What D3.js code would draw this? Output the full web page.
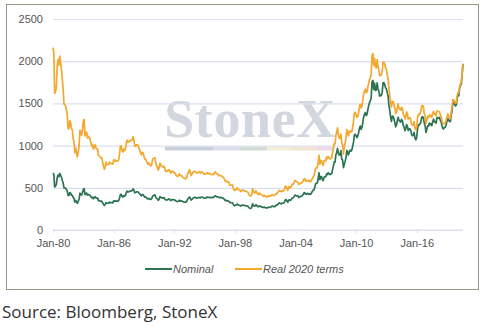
<!DOCTYPE html>
<html>
<head>
<meta charset="utf-8">
<script src="https://cdn.jsdelivr.net/npm/d3@7"></script>
<style>
  html, body { margin: 0; padding: 0; background: #fff; }
  svg { display: block; }
</style>
</head>
<body>
<svg id="chart" width="500" height="329"></svg>
<script>
// Gold price, monthly, US$/oz
const firstMonth = new Date(1980, 0, 1);

const nominal = [
  675, 660, 510, 520, 540, 620, 650, 630, 670, 650, 625, 590,   // 1980
  557, 500, 499, 495, 480, 461, 409, 410, 444, 437, 413, 410,   // 1981
  384, 374, 330, 350, 334, 315, 339, 364, 436, 422, 414, 444,   // 1982
  481, 491, 419, 432, 438, 413, 422, 416, 412, 394, 382, 388,   // 1983
  370, 386, 394, 381, 377, 378, 348, 348, 341, 340, 341, 320,   // 1984
  303, 290, 304, 325, 316, 317, 317, 330, 323, 326, 325, 322,   // 1985
  345, 339, 346, 340, 342, 343, 348, 376, 418, 423, 398, 391,   // 1986
  408, 401, 409, 438, 460, 450, 450, 461, 460, 465, 467, 486,   // 1987
  477, 442, 443, 452, 451, 452, 437, 433, 413, 406, 420, 419,   // 1988
  404, 388, 390, 384, 371, 368, 375, 366, 362, 367, 392, 409,   // 1989
  410, 416, 393, 375, 369, 352, 362, 395, 389, 381, 382, 378,   // 1990
  384, 364, 356, 358, 357, 367, 368, 357, 349, 359, 360, 361,   // 1991
  354, 354, 344, 338, 337, 340, 353, 343, 345, 344, 335, 334,   // 1992
  329, 330, 330, 342, 367, 372, 392, 379, 355, 364, 373, 383,   // 1993
  387, 382, 384, 377, 381, 386, 385, 380, 391, 389, 384, 379,   // 1994
  379, 377, 382, 391, 385, 387, 386, 383, 383, 383, 386, 387,   // 1995
  400, 405, 396, 393, 392, 385, 383, 387, 383, 381, 378, 369,   // 1996
  355, 347, 352, 344, 344, 341, 324, 324, 323, 325, 306, 289,   // 1997
  289, 297, 296, 308, 299, 292, 293, 284, 289, 296, 294, 291,   // 1998
  287, 288, 286, 282, 277, 262, 256, 257, 265, 311, 293, 283,   // 1999
  285, 301, 287, 280, 275, 286, 282, 275, 274, 270, 266, 272,   // 2000
  266, 262, 263, 261, 272, 270, 268, 273, 283, 283, 276, 276,   // 2001
  282, 296, 294, 302, 314, 321, 314, 310, 319, 317, 319, 333,   // 2002
  357, 359, 340, 328, 355, 356, 351, 360, 379, 379, 389, 407,   // 2003
  414, 405, 406, 404, 384, 392, 398, 400, 406, 420, 439, 442,   // 2004
  424, 423, 434, 429, 422, 430, 424, 438, 456, 470, 476, 510,   // 2005
  549, 555, 557, 610, 676, 596, 633, 632, 598, 585, 627, 629,   // 2006
  631, 665, 655, 679, 667, 655, 665, 665, 712, 754, 806, 803,   // 2007
  889, 922, 968, 909, 888, 889, 940, 839, 829, 740, 780, 816,   // 2008
  858, 943, 924, 890, 928, 946, 934, 949, 996, 1043, 1127, 1134, // 2009
  1118, 1095, 1113, 1148, 1205, 1232, 1193, 1215, 1271, 1342, 1370, 1391, // 2010
  1356, 1372, 1424, 1473, 1510, 1529, 1573, 1756, 1772, 1666, 1739, 1652, // 2011
  1656, 1743, 1674, 1650, 1585, 1596, 1594, 1630, 1745, 1747, 1722, 1685, // 2012
  1671, 1628, 1592, 1485, 1414, 1343, 1286, 1347, 1349, 1316, 1275, 1222, // 2013
  1244, 1300, 1336, 1299, 1288, 1279, 1311, 1296, 1239, 1222, 1176, 1200, // 2014
  1250, 1227, 1179, 1198, 1199, 1181, 1131, 1117, 1125, 1157, 1086, 1068, // 2015
  1097, 1199, 1246, 1242, 1260, 1276, 1337, 1341, 1326, 1266, 1238, 1157, // 2016
  1192, 1234, 1231, 1266, 1246, 1260, 1236, 1283, 1314, 1280, 1283, 1265, // 2017
  1331, 1331, 1325, 1335, 1303, 1282, 1238, 1202, 1199, 1215, 1221, 1250, // 2018
  1292, 1320, 1300, 1286, 1284, 1359, 1413, 1500, 1510, 1495, 1471, 1480, // 2019
  1560, 1597, 1591, 1683, 1716, 1732, 1846, 1968                          // 2020
];

const real2020 = [
  2160, 2100, 1620, 1640, 1700, 1940, 2020, 1950, 2060, 1990, 1900, 1790, // 1980
  1670, 1495, 1485, 1470, 1420, 1360, 1200, 1200, 1295, 1270, 1200, 1185, // 1981
  1075, 1045, 915, 970, 920, 865, 930, 995, 1185, 1145, 1120, 1195,       // 1982
  1290, 1310, 1115, 1150, 1160, 1090, 1110, 1095, 1080, 1030, 995, 1010,  // 1983
  955, 990, 1010, 975, 960, 960, 880, 880, 860, 855, 855, 800,            // 1984
  755, 720, 750, 805, 775, 775, 775, 805, 790, 790, 785, 780,             // 1985
  830, 815, 830, 815, 815, 820, 830, 895, 990, 1000, 940, 925,            // 1986
  960, 940, 955, 1020, 1065, 1040, 1040, 1060, 1055, 1065, 1065, 1105,    // 1987
  1080, 995, 990, 1010, 1005, 1005, 965, 955, 910, 890, 920, 915,         // 1988
  875, 840, 840, 820, 790, 780, 795, 770, 760, 765, 820, 850,             // 1989
  850, 855, 805, 765, 750, 710, 730, 790, 775, 755, 755, 745,             // 1990
  755, 715, 695, 700, 695, 710, 715, 690, 675, 695, 690, 695,             // 1991
  675, 675, 655, 640, 635, 645, 665, 645, 645, 645, 625, 620,             // 1992
  610, 610, 605, 630, 670, 680, 715, 690, 645, 660, 675, 695,             // 1993
  695, 690, 685, 675, 680, 685, 685, 675, 690, 690, 675, 665,             // 1994
  665, 660, 665, 680, 665, 670, 670, 660, 660, 660, 660, 660,             // 1995
  680, 690, 670, 665, 660, 645, 645, 645, 640, 635, 625, 615,             // 1996
  590, 575, 580, 570, 570, 565, 530, 530, 530, 535, 500, 470,             // 1997
  470, 485, 480, 500, 485, 475, 470, 455, 465, 475, 470, 465,             // 1998
  460, 460, 455, 450, 440, 415, 405, 405, 415, 490, 460, 440,             // 1999
  440, 465, 440, 430, 420, 440, 430, 420, 415, 410, 400, 410,             // 2000
  400, 395, 395, 390, 410, 400, 400, 405, 420, 420, 410, 410,             // 2001
  415, 435, 430, 445, 460, 470, 460, 455, 465, 460, 465, 485,             // 2002
  520, 515, 490, 470, 510, 510, 500, 515, 540, 540, 550, 580,             // 2003
  585, 570, 570, 565, 540, 545, 555, 555, 565, 580, 605, 610,             // 2004
  580, 580, 590, 585, 575, 585, 570, 590, 610, 630, 640, 690,             // 2005
  730, 740, 735, 800, 885, 780, 825, 820, 785, 765, 820, 825,             // 2006
  820, 865, 845, 870, 855, 840, 850, 850, 910, 960, 1025, 1020,           // 2007
  1120, 1160, 1210, 1125, 1090, 1085, 1135, 1025, 1010, 900, 985, 1035,   // 2008
  1090, 1190, 1165, 1115, 1160, 1175, 1160, 1165, 1225, 1285, 1385, 1395, // 2009
  1365, 1335, 1345, 1390, 1460, 1490, 1445, 1470, 1540, 1610, 1645, 1670, // 2010
  1625, 1635, 1695, 1740, 1780, 1805, 1855, 2070, 2090, 1950, 2035, 1935, // 2011
  1920, 2020, 1940, 1900, 1825, 1835, 1835, 1875, 1990, 1990, 1965, 1920, // 2012
  1905, 1840, 1800, 1680, 1600, 1520, 1455, 1520, 1525, 1485, 1440, 1380, // 2013
  1395, 1455, 1495, 1440, 1430, 1420, 1455, 1440, 1375, 1355, 1315, 1345, // 2014
  1400, 1375, 1310, 1330, 1330, 1310, 1255, 1240, 1250, 1285, 1205, 1185, // 2015
  1220, 1330, 1370, 1365, 1385, 1405, 1470, 1475, 1460, 1380, 1350, 1260, // 2016
  1300, 1345, 1330, 1365, 1345, 1360, 1335, 1385, 1405, 1370, 1375, 1355, // 2017
  1410, 1410, 1405, 1400, 1370, 1345, 1300, 1260, 1260, 1265, 1270, 1300, // 2018
  1345, 1375, 1340, 1325, 1320, 1400, 1455, 1545, 1540, 1525, 1500, 1510, // 2019
  1590, 1630, 1625, 1700, 1735, 1750, 1850, 1970                          // 2020
];

const yTicks = [0, 500, 1000, 1500, 2000, 2500];
const xTickYears = [1980, 1986, 1992, 1998, 2004, 2010, 2016];
const seriesNames = ["Nominal", "Real 2020 terms"];
const seriesColors = ["#2d7453", "#f3a82e"];

const svg = d3.select("#chart");

// Outer frame of the chart panel
svg.append("rect")
  .attr("x", 6.5).attr("y", 4.5)
  .attr("width", 472).attr("height", 285)
  .attr("fill", "#fff")
  .attr("stroke", "#8d9a86")
  .attr("stroke-width", 1);

const months = d3.range(nominal.length).map(i => d3.timeMonth.offset(firstMonth, i));

const x = d3.scaleTime()
  .domain([firstMonth, months[months.length - 1]])
  .range([53, 463]);
const y = d3.scaleLinear().domain([0, 2500]).range([230, 19]);

// Watermark behind the data
const wm = svg.append("g");
wm.append("text")
  .attr("x", 250).attr("y", 137)
  .attr("text-anchor", "middle")
  .attr("font-family", "'Liberation Serif', 'DejaVu Serif', serif")
  .attr("font-weight", "bold")
  .attr("font-size", 54)
  .attr("letter-spacing", 0.6)
  .attr("fill", "#d2d6df")
  .text("StoneX");
const bandStops = [165, 213, 240, 267, 292, 317, 333];
const bandColors = ["#c9cfdd", "#dbe0eb", "#d3dbd6", "#f2efd6", "#f4e4d3", "#eddae6"];
wm.selectAll("rect").data(bandColors).join("rect")
  .attr("x", (d, i) => bandStops[i])
  .attr("width", (d, i) => bandStops[i + 1] - bandStops[i])
  .attr("y", 146.5).attr("height", 4)
  .attr("fill", d => d);

// Horizontal gridlines and y labels
const yAxis = svg.append("g")
  .attr("transform", "translate(53,0)")
  .call(d3.axisLeft(y).tickValues(yTicks).tickFormat(d3.format("d"))
    .tickSize(-410).tickPadding(10));
yAxis.select(".domain").remove();
yAxis.selectAll(".tick line").attr("stroke", "#dde0ee").attr("stroke-width", 1.2);
yAxis.selectAll(".tick text")
  .attr("font-family", "'Liberation Sans', Arial, sans-serif")
  .attr("font-size", 11).attr("fill", "#555");

// Bottom axis
const xAxis = svg.append("g")
  .attr("transform", "translate(0,230)")
  .call(d3.axisBottom(x)
    .tickValues(xTickYears.map(yr => new Date(yr, 0, 1)))
    .tickFormat(d3.timeFormat("%b-%y"))
    .tickSize(3).tickPadding(6));
xAxis.select(".domain").attr("stroke", "#dde0ee").attr("stroke-width", 1.2)
  .attr("d", "M53,0H463");
xAxis.selectAll(".tick line").attr("stroke", "#dde0ee");
xAxis.selectAll(".tick text")
  .attr("font-family", "'Liberation Sans', Arial, sans-serif")
  .attr("font-size", 11).attr("fill", "#555");

// Price lines
const line = d3.line()
  .x((d, i) => x(months[i]))
  .y(d => y(d))
  .curve(d3.curveLinear);

svg.append("path").datum(nominal)
  .attr("fill", "none").attr("stroke", seriesColors[0])
  .attr("stroke-width", 1.7).attr("stroke-linejoin", "round")
  .attr("d", line);
svg.append("path").datum(real2020)
  .attr("fill", "none").attr("stroke", seriesColors[1])
  .attr("stroke-width", 1.7).attr("stroke-linejoin", "round")
  .attr("d", line);

// Legend
const legendX = [145, 235];
const legend = svg.append("g").selectAll("g").data(seriesNames).join("g")
  .attr("transform", (d, i) => `translate(${legendX[i]},269)`);
legend.append("line")
  .attr("x1", 0).attr("x2", 27).attr("y1", 0).attr("y2", 0)
  .attr("stroke", (d, i) => seriesColors[i]).attr("stroke-width", 2);
legend.append("text")
  .attr("x", 28).attr("y", 4)
  .attr("font-family", "'Liberation Sans', Arial, sans-serif")
  .attr("font-style", "italic")
  .attr("font-size", 11).attr("fill", "#555")
  .text(d => d);

// Source note
svg.append("text")
  .attr("x", 2).attr("y", 318)
  .attr("font-family", "'Open Sans', 'Noto Sans', sans-serif")
  .attr("font-size", 17).attr("fill", "#333")
  .text("Source: Bloomberg, StoneX");
</script>
</body>
</html>
